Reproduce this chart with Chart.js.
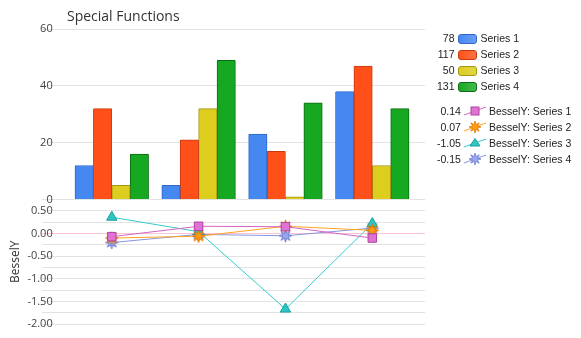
<!DOCTYPE html>
<html>
<head>
<meta charset="utf-8">
<script src="https://cdn.jsdelivr.net/npm/chart.js@4.4.1/dist/chart.umd.min.js"></script>
<style>
  html, body { margin: 0; padding: 0; background: #fff; }
  #wrap { position: relative; width: 581px; height: 338px; }
  #title { position: absolute; left: 67px; top: 6px; font: 14px "Open Sans", sans-serif; color: #333; }
  .legend { position: absolute; left: 437px; border-collapse: collapse; font: 10.5px "Liberation Sans", Arial, sans-serif; color: #222; }
  .legend td { padding: 0; height: 16px; white-space: nowrap; vertical-align: middle; }
  .legend td.v { text-align: right; padding-right: 3px; }
  .legend td.m { padding-right: 4px; }
  #lineLegend td.m { padding-right: 3px; }
  .sw { display: inline-block; width: 17px; height: 8px; border-radius: 3px; border: 1px solid; vertical-align: middle; }
</style>
</head>
<body>
<div id="wrap">
  <canvas id="chart" width="581" height="338" style="width:581px;height:338px"></canvas>
  <div id="title">Special Functions</div>
  <table class="legend" id="barLegend" style="top:30px"></table>
  <table class="legend" id="lineLegend" style="top:103px"></table>
</div>
<script>
// categories are x positions 1..4, no visible labels
const categories = [1, 2, 3, 4];
const barNames = ['Series 1', 'Series 2', 'Series 3', 'Series 4'];
const series1 = [12, 5, 23, 38];
const series2 = [32, 21, 17, 47];
const series3 = [5, 32, 1, 12];
const series4 = [16, 49, 34, 32];

const lineNames = ['BesselY: Series 1', 'BesselY: Series 2', 'BesselY: Series 3', 'BesselY: Series 4'];
const bessel1 = [-0.07, 0.16, 0.15, -0.10];
const bessel2 = [-0.10, -0.06, 0.16, 0.07];
const bessel3 = [0.36, 0.04, -1.67, 0.22];
const bessel4 = [-0.20, -0.02, -0.05, 0.12];

const barTicks = [0, 20, 40, 60];
const besselTicks = [0.5, 0, -0.5, -1, -1.5, -2];

const barFill = ['#4688f2', '#ff5019', '#dccd1e', '#17a822'];
const barEdge = ['#2d67c8', '#c83a0c', '#a39712', '#0c6c13'];
const lineColor = ['#d564c4', '#ffa31f', '#33cccc', '#8894e0'];
const markFill = ['#df72d2', '#ff9c14', '#2fc6c2', '#9ba6ef'];
const markEdge = ['#b0449f', '#e07a00', '#1a9e9e', '#6f7fd4'];

function starImage(fill, edge) {
  const c = document.createElement('canvas');
  c.width = 15; c.height = 15;
  const g = c.getContext('2d');
  g.beginPath();
  for (let i = 0; i < 16; i++) {
    const r = i % 2 ? 2.8 : 6.5;
    const a = Math.PI * i / 8 - Math.PI / 2;
    const px = 7.5 + r * Math.cos(a), py = 7.5 + r * Math.sin(a);
    i ? g.lineTo(px, py) : g.moveTo(px, py);
  }
  g.closePath();
  g.fillStyle = fill; g.fill();
  g.strokeStyle = edge; g.lineWidth = 1; g.stroke();
  return c;
}

const pointStyles = ['rect', starImage(markFill[1], markEdge[1]), 'triangle', starImage(markFill[3], markEdge[3])];

const toXY = vals => vals.map((v, i) => ({ x: categories[i], y: v }));

const barSeries = [series1, series2, series3, series4];
const lineSeries = [bessel1, bessel2, bessel3, bessel4];

const datasets = [];
barSeries.forEach((s, i) => datasets.push({
  type: 'bar',
  label: barNames[i],
  data: toXY(s),
  yAxisID: 'y',
  backgroundColor: barFill[i],
  borderColor: barEdge[i],
  borderWidth: 1,
  borderSkipped: 'bottom',
  borderRadius: 1,
  barThickness: 18.4,
  order: 2
}));
lineSeries.forEach((s, i) => datasets.push({
  type: 'line',
  label: lineNames[i],
  data: toXY(s),
  yAxisID: 'y2',
  borderColor: lineColor[i],
  borderWidth: 1,
  tension: 0,
  pointStyle: pointStyles[i],
  pointRadius: 6,
  pointBackgroundColor: markFill[i],
  pointBorderColor: markEdge[i],
  pointBorderWidth: 1,
  order: 1
}));

const tickFont = { family: 'Open Sans', size: 11 };

new Chart(document.getElementById('chart'), {
  type: 'bar',
  data: { datasets },
  options: {
    responsive: false,
    animation: false,
    layout: { padding: { left: 4, top: 29, right: 156, bottom: 14 } },
    plugins: { legend: { display: false }, tooltip: { enabled: false } },
    scales: {
      x: { type: 'linear', min: 0.198, max: 4.607, offset: false, grid: { offset: false }, display: false },
      // defined first so it lands in the lower half of the stack
      y2: {
        stack: 'panels', stackWeight: 124, position: 'left',
        min: -2, max: 0.75,
        border: { display: false },
        grid: { color: c => Math.abs(c.tick.value) < 1e-9 ? '#f9c6d2' : '#e3e3e3', drawTicks: false },
        title: { display: true, text: 'BesselY', color: '#333', padding: { top: 4, bottom: 0 }, font: { family: 'Open Sans', size: 12 } },
        ticks: { stepSize: 0.25, padding: 5, color: '#444', font: tickFont, autoSkip: false,
          callback: v => besselTicks.some(t => Math.abs(t - v) < 1e-9) ? v.toFixed(2) : '' }
      },
      y: {
        stack: 'panels', stackWeight: 170, position: 'left',
        min: 0, max: 60,
        border: { display: false },
        grid: { color: '#e3e3e3', drawTicks: false },
        ticks: { stepSize: 20, padding: 5, color: '#444', font: tickFont,
          callback: v => barTicks.includes(v) ? String(v) : '' }
      }
    }
  }
});

// legends
const sum = a => a.reduce((p, q) => p + q, 0);
const barLegend = document.getElementById('barLegend');
barSeries.forEach((s, i) => {
  const tr = document.createElement('tr');
  tr.innerHTML = '<td class="v">' + sum(s) + '</td>' +
    '<td class="m"><span class="sw" style="background:linear-gradient(90deg,' + barFill[i] + ',' + barFill[i] + 'cc);border-color:' + barEdge[i] + '"></span></td>' +
    '<td>' + barNames[i] + '</td>';
  barLegend.appendChild(tr);
});

function markerSvg(i) {
  let m;
  if (i === 0) m = '<rect x="7" y="3" width="8" height="8" fill="' + markFill[0] + '" stroke="' + markEdge[0] + '"/>';
  else if (i === 2) m = '<polygon points="11,2.5 16,10 6,10" fill="' + markFill[2] + '" stroke="' + markEdge[2] + '"/>';
  else {
    let pts = [];
    for (let k = 0; k < 16; k++) {
      const r = k % 2 ? 2.6 : 6;
      const a = Math.PI * k / 8 - Math.PI / 2;
      pts.push((11 + r * Math.cos(a)).toFixed(1) + ',' + (7 + r * Math.sin(a)).toFixed(1));
    }
    m = '<polygon points="' + pts.join(' ') + '" fill="' + markFill[i] + '" stroke="' + markEdge[i] + '" stroke-width="0.8"/>';
  }
  return '<svg width="22" height="14" style="display:block"><line x1="0" y1="11" x2="22" y2="3" stroke="' + lineColor[i] + '" stroke-width="1"/>' + m + '</svg>';
}

const lineLegend = document.getElementById('lineLegend');
lineSeries.forEach((s, i) => {
  const tr = document.createElement('tr');
  tr.innerHTML = '<td class="v">' + sum(s).toFixed(2) + '</td>' +
    '<td class="m">' + markerSvg(i) + '</td>' +
    '<td>' + lineNames[i] + '</td>';
  lineLegend.appendChild(tr);
});
</script>
</body>
</html>
